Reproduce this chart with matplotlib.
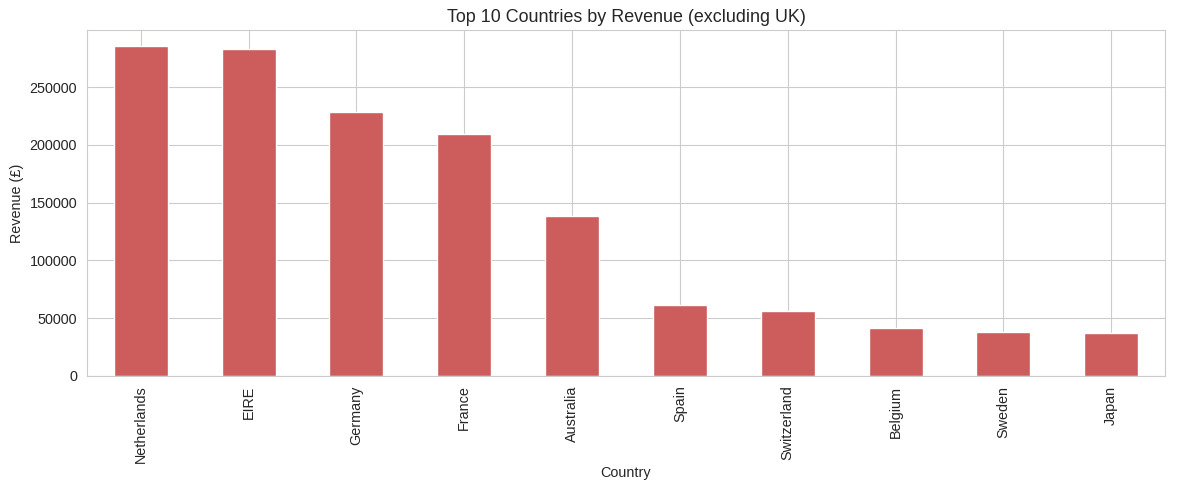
import matplotlib
matplotlib.use("Agg")
import matplotlib.pyplot as plt
import seaborn as sns
import pandas as pd

countries = ['Netherlands', 'EIRE', 'Germany', 'France', 'Australia',
             'Spain', 'Switzerland', 'Belgium', 'Sweden', 'Japan']
revenue = [285446, 283454, 228867, 209715, 138521,
           61577, 56444, 41196, 38378, 37416]

sns.set_style('whitegrid')
plt.rcParams['font.family'] = ['Arial', 'Liberation Sans', 'DejaVu Sans']
plt.rcParams['font.size'] = 10.4
plt.rcParams['axes.titlesize'] = 12.9
plt.rcParams['axes.labelsize'] = 10.4
plt.rcParams['xtick.labelsize'] = 10.4
plt.rcParams['ytick.labelsize'] = 10.4

s = pd.Series(revenue, index=pd.Index(countries, name='Country'))

fig, ax = plt.subplots(figsize=(11.89, 4.9), dpi=100)
s.plot(kind='bar', color='indianred', ax=ax)
ax.set_title('Top 10 Countries by Revenue (excluding UK)')
ax.set_ylabel('Revenue (£)')
ax.set_xlabel('Country', labelpad=2)
fig.subplots_adjust(left=0.073, right=0.980, top=0.939, bottom=0.233)
plt.savefig('out.png', dpi=100)
